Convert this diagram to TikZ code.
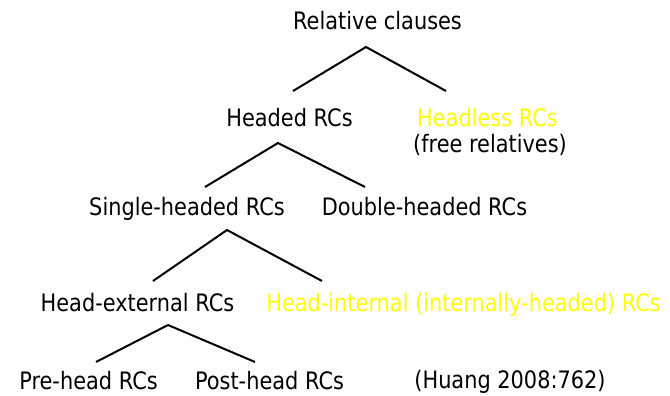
\documentclass[tikz,border=0pt]{standalone}
\usepackage{fontspec}
\setmainfont{DejaVu Sans}[FakeStretch=0.87]
\definecolor{hlyellow}{RGB}{255,255,0}
\begin{document}
\begin{tikzpicture}[x=1pt,y=-1pt,
  lbl/.style={anchor=base,inner sep=0pt,font=\fontsize{24}{28}\selectfont},
  hl/.style={lbl,text=hlyellow},
  branch/.style={line width=2pt,line cap=butt,line join=miter}]
\useasboundingbox (0,0) rectangle (670,396);
% labels
\node[lbl] (rc)   at (377.5,29.5) {Relative clauses};
\node[lbl] (hd)   at (289.5,127)  {Headed RCs};
\node[hl]  (hl)   at (487.5,127)  {Headless RCs};
\node[lbl] (fr)   at (490,153)    {(free relatives)};
\node[lbl] (sh)   at (187,215)    {Single-headed RCs};
\node[lbl] (dh)   at (424.5,215)  {Double-headed RCs};
\node[lbl] (he)   at (137.5,311)  {Head-external RCs};
\node[hl]  (hi)   at (463.5,311)  {Head-internal (internally-headed) RCs};
\node[lbl] (pre)  at (88.5,389)   {Pre-head RCs};
\node[lbl] (post) at (269.5,389)  {Post-head RCs};
\node[lbl] (src)  at (510,388.5)  {(Huang 2008:762)};
% branch points
\coordinate (rcA) at (366,47);  \coordinate (rcL) at (293,91);  \coordinate (rcR) at (446,91);
\coordinate (hdA) at (278,143); \coordinate (hdL) at (205,187); \coordinate (hdR) at (365,187);
\coordinate (shA) at (227,230); \coordinate (shL) at (153,281); \coordinate (shR) at (322,281);
\coordinate (heA) at (168,325); \coordinate (heL) at (96,362);  \coordinate (heR) at (255,362);
\draw[branch] (rcL) -- (rcA) -- (rcR);
\draw[branch] (hdL) -- (hdA) -- (hdR);
\draw[branch] (shL) -- (shA) -- (shR);
\draw[branch] (heL) -- (heA) -- (heR);
\end{tikzpicture}
\end{document}
